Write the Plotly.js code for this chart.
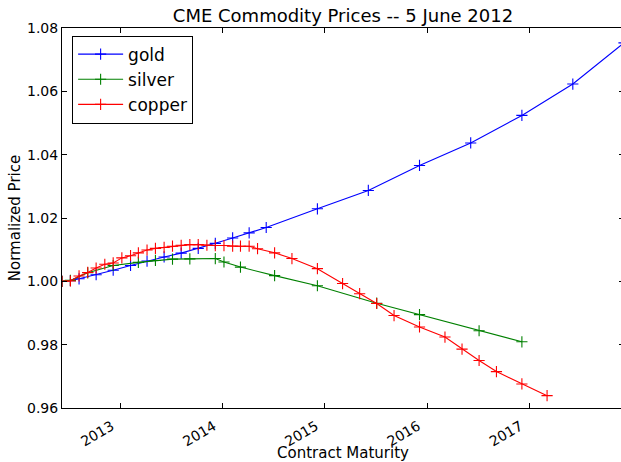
<!DOCTYPE html>
<html>
<head>
<meta charset="utf-8">
<script src="https://cdn.plot.ly/plotly-3.0.1.min.js"></script>
<style>
html, body { margin: 0; padding: 0; overflow: hidden; background: #ffffff; }
#chart { width: 629px; height: 462px; }
</style>
</head>
<body>
<div id="chart"></div>
<script>
// ---- data ----
const chartTitle = "CME Commodity Prices -- 5 June 2012";
const xLabel = "Contract Maturity";
const yLabel = "Normalized Price";

const goldDates = ["2012-06-05","2012-07-05","2012-08-05","2012-10-05","2012-12-05",
  "2013-02-05","2013-04-05","2013-06-05","2013-08-05","2013-10-05","2013-12-05",
  "2014-02-05","2014-04-05","2014-06-05","2014-12-05","2015-06-05","2015-12-05",
  "2016-06-05","2016-12-05","2017-06-05","2017-12-05"];
const goldValues = [1.0000, 1.0002, 1.0008, 1.0021, 1.0035,
  1.0050, 1.0064, 1.0077, 1.0089, 1.0104, 1.0120,
  1.0137, 1.0153, 1.0170, 1.0229, 1.0287, 1.0366,
  1.0437, 1.0524, 1.0623, 1.0753];

const silverDates = ["2012-06-05","2012-07-05","2012-09-05","2012-12-05","2013-03-05",
  "2013-05-05","2013-07-05","2013-09-05","2013-12-05","2014-01-05","2014-03-05",
  "2014-07-05","2014-12-05","2015-07-05","2015-12-05","2016-07-05","2016-12-05"];
const silverValues = [1.0000, 1.0003, 1.0027, 1.0050, 1.0060,
  1.0066, 1.0070, 1.0071, 1.0072, 1.0061, 1.0045,
  1.0018, 0.9986, 0.9931, 0.9895, 0.9844, 0.9809];

const copperDates = ["2012-06-05","2012-07-05","2012-08-05","2012-09-05","2012-10-05",
  "2012-11-05","2012-12-05","2013-01-05","2013-02-05","2013-03-05","2013-04-05",
  "2013-05-05","2013-06-05","2013-07-05","2013-08-05","2013-09-05","2013-10-05",
  "2013-11-05","2013-12-05","2014-01-05","2014-02-05","2014-03-05","2014-04-05",
  "2014-05-05","2014-07-05","2014-09-05","2014-12-05","2015-03-05","2015-05-05",
  "2015-07-05","2015-09-05","2015-12-05","2016-03-05","2016-05-05","2016-07-05",
  "2016-09-05","2016-12-05","2017-03-05"];
const copperValues = [1.0000, 1.0001, 1.0017, 1.0028, 1.0042,
  1.0054, 1.0058, 1.0074, 1.0081, 1.0090, 1.0099,
  1.0104, 1.0107, 1.0111, 1.0114, 1.0116, 1.0116,
  1.0114, 1.0113, 1.0113, 1.0111, 1.0111, 1.0111,
  1.0103, 1.0090, 1.0072, 1.0040, 0.9993, 0.9961,
  0.9930, 0.9892, 0.9856, 0.9824, 0.9786, 0.9750,
  0.9715, 0.9676, 0.9639];

const xTickVals = ["2013-01-01","2014-01-01","2015-01-01","2016-01-01","2017-01-01"];
const xTickText = ["2013","2014","2015","2016","2017"];
const yTickVals = [0.96, 0.98, 1.00, 1.02, 1.04, 1.06, 1.08];
const yTickText = ["0.96","0.98","1.00","1.02","1.04","1.06","1.08"];
const xRange = ["2012-06-05","2017-12-05"];
const yRange = [0.96, 1.08];

// ---- chart ----
const FONT = "DejaVu Sans, sans-serif";
function series(name, x, y, color) {
  return {
    type: "scatter", mode: "lines+markers", name: name, x: x, y: y,
    line: { color: color, width: 1.1 },
    marker: { symbol: "cross-thin-open", size: 8, color: color, line: { color: color, width: 1.1 } },
    cliponaxis: true
  };
}
const traces = [
  series("gold", goldDates, goldValues, "#0000ff"),
  series("silver", silverDates, silverValues, "#008000"),
  series("copper", copperDates, copperValues, "#ff0000")
];

const layout = {
  width: 629, height: 462,
  margin: { l: 62, r: 5, t: 28, b: 54 },
  paper_bgcolor: "#ffffff", plot_bgcolor: "#ffffff",
  font: { family: FONT, size: 14, color: "#000000" },
  title: { text: chartTitle, font: { family: FONT, size: 18, color: "#000000" },
           x: 0.5, xref: "paper", xanchor: "center", y: 1, yref: "paper", yanchor: "bottom", pad: { b: 6 } },
  showlegend: true,
  legend: {
    x: 0.018, y: 0.98, xanchor: "left", yanchor: "top",
    bgcolor: "#ffffff", bordercolor: "#000000", borderwidth: 1,
    font: { family: FONT, size: 17, color: "#000000" },
    itemwidth: 45,
    tracegroupgap: 0
  },
  xaxis: {
    type: "date", range: xRange, autorange: false,
    tickmode: "array", tickvals: xTickVals, ticktext: xTickText,
    tickangle: -30, ticks: "inside", ticklen: 5, tickwidth: 1, tickcolor: "#000000",
    ticklabelshift: -9, ticklabelstandoff: 4,
    showline: true, linecolor: "#000000", linewidth: 1, mirror: "allticks",
    showgrid: false, zeroline: false,
    tickfont: { family: FONT, size: 14, color: "#000000" },
    title: { text: xLabel, font: { family: FONT, size: 15, color: "#000000" }, standoff: 4 },
    automargin: false
  },
  yaxis: {
    range: yRange, autorange: false,
    tickmode: "array", tickvals: yTickVals, ticktext: yTickText,
    ticks: "inside", ticklen: 5, tickwidth: 1, tickcolor: "#000000",
    showline: true, linecolor: "#000000", linewidth: 1, mirror: "allticks",
    showgrid: false, zeroline: false,
    tickfont: { family: FONT, size: 14, color: "#000000" },
    title: { text: yLabel, font: { family: FONT, size: 15, color: "#000000" }, standoff: 2 },
    automargin: false
  }
};

Plotly.newPlot("chart", traces, layout, { displayModeBar: false, staticPlot: true });
</script>
</body>
</html>
